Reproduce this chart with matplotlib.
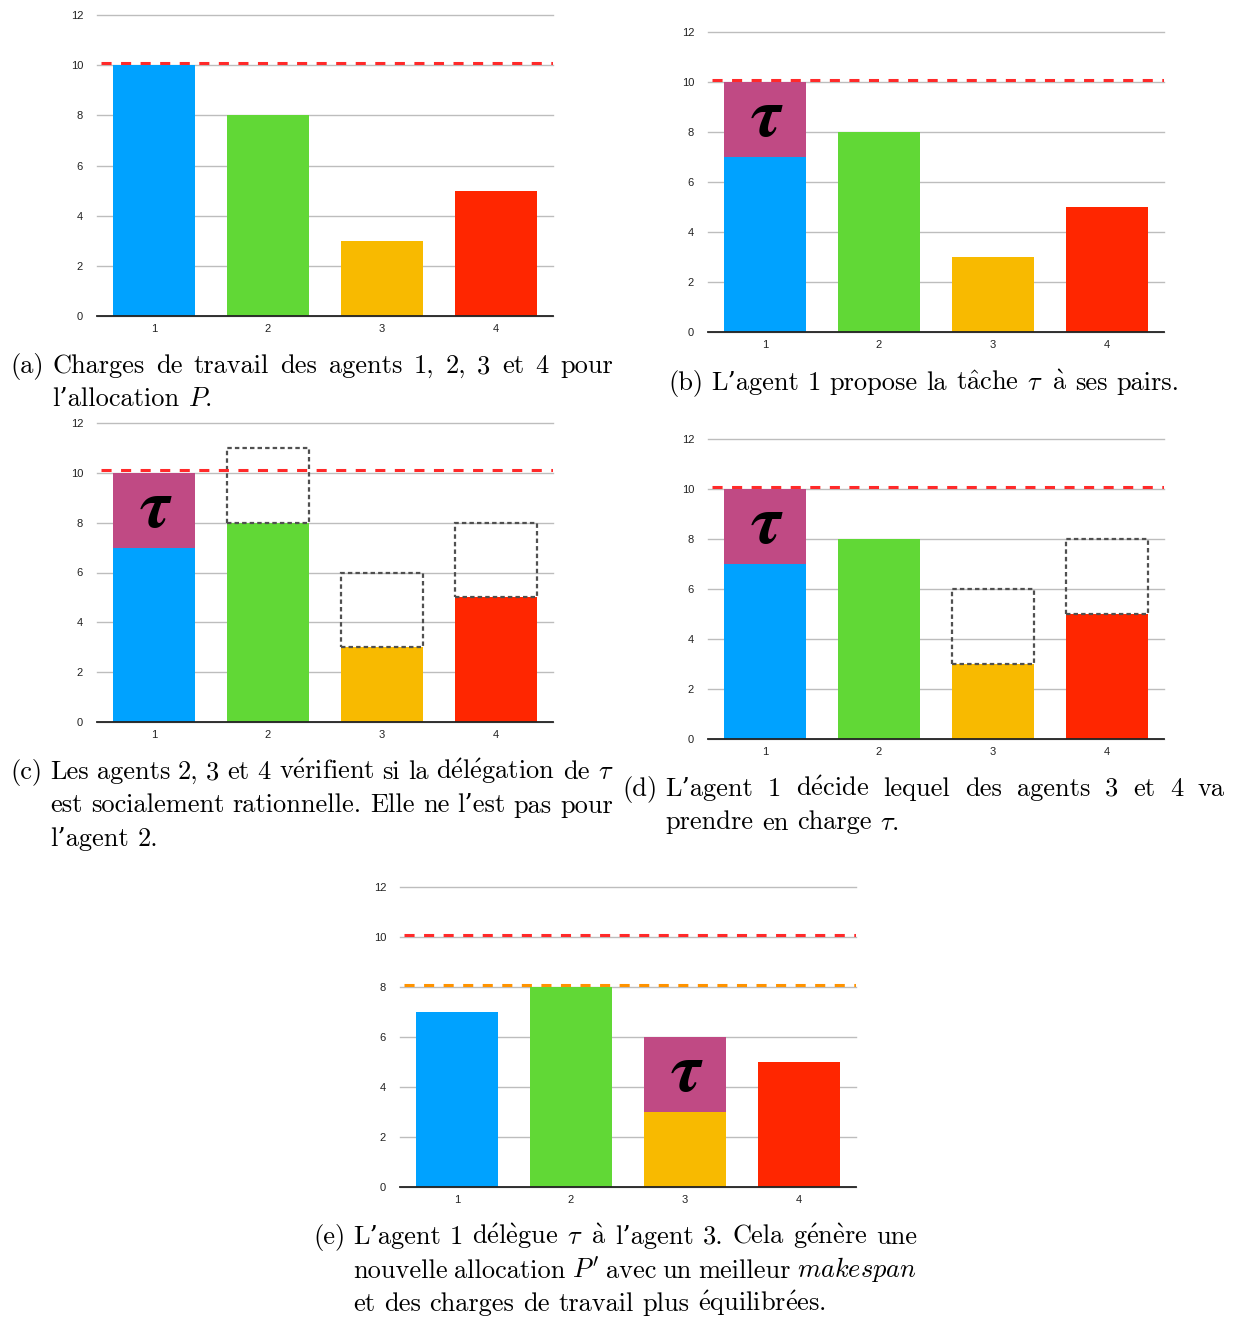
import numpy as np
import matplotlib
matplotlib.use("Agg")
import matplotlib.pyplot as plt
from matplotlib.patches import Rectangle

plt.rcParams['mathtext.fontset'] = 'cm'

# =========================
# DATA
# =========================
agents = [1, 2, 3, 4]
bar_colors = ['#00A2FF', '#61D836', '#F8BA00', '#FF2600']
tau_color = '#C04A84'
loads_P = [10, 8, 3, 5]        # allocation P
loads_rest = [7, 8, 3, 5]      # loads once tau is taken out of agent 1
tau_load = 3
makespan_P = 10
makespan_P2 = 8
yticks = [0, 2, 4, 6, 8, 10, 12]

# per panel: loads, agent holding tau, agents checking tau, dashed levels
panel_a = dict(loads=loads_P, holder=None, cand=[], levels=[makespan_P])
panel_b = dict(loads=loads_rest, holder=1, cand=[], levels=[makespan_P])
panel_c = dict(loads=loads_rest, holder=1, cand=[2, 3, 4], levels=[makespan_P])
panel_d = dict(loads=loads_rest, holder=1, cand=[3, 4], levels=[makespan_P])
panel_e = dict(loads=loads_rest, holder=3, cand=[], levels=[makespan_P, makespan_P2])
level_colors = {makespan_P: '#FF2A2A', makespan_P2: '#FF9300'}

cap_a = ["Charges de travail des agents 1, 2, 3 et 4 pour",
         "l’allocation $P$."]
cap_b = ["L’agent 1 propose la tâche $\\tau$ à ses pairs."]
cap_c = ["Les agents 2, 3 et 4 vérifient si la délégation de $\\tau$",
         "est socialement rationnelle. Elle ne l’est pas pour",
         "l’agent 2."]
cap_d = ["L’agent 1 décide lequel des agents 3 et 4 va",
         "prendre en charge $\\tau$."]
cap_e = ["L’agent 1 délègue $\\tau$ à l’agent 3. Cela génère une",
         "nouvelle allocation $P'$ avec un meilleur $\\mathit{makespan}$",
         "et des charges de travail plus équilibrées."]

# =========================
# LAYOUT (pixels)
# =========================
W, H = 1236, 1317
fig = plt.figure(figsize=(W/100, H/100), dpi=100)

# left, right, y of 0, y of 12
boxes = {
    'a': (97, 553, 316, 15),
    'b': (708, 1164, 332, 32),
    'c': (97, 553, 722, 423),
    'd': (708, 1164, 739, 439),
    'e': (400, 856, 1187, 887),
}
panels = {'a': panel_a, 'b': panel_b, 'c': panel_c, 'd': panel_d, 'e': panel_e}
bw = 0.72


def draw_panel(key):
    l, r, y0, y12 = boxes[key]
    p = panels[key]
    ax = fig.add_axes([l/W, 1 - y0/H, (r - l)/W, (y0 - y12)/H])
    ax.set_xlim(0.5, 4.5)
    ax.set_ylim(0, 12)
    ax.set_yticks(yticks)
    ax.set_xticks(agents)
    ax.yaxis.grid(True, color='#bdbdbd', lw=1.0)
    for gl in ax.get_ygridlines():
        gl.set_clip_on(False)
    ax.set_axisbelow(True)
    for s in ['top', 'right', 'left']:
        ax.spines[s].set_visible(False)
    ax.spines['bottom'].set_color('#222222')
    ax.spines['bottom'].set_linewidth(1.3)
    ax.tick_params(axis='y', length=0, pad=10, labelsize=8, labelcolor='#222222')
    ax.tick_params(axis='x', length=0, pad=6, labelsize=8, labelcolor='#222222')
    for t in ax.get_xticklabels() + ax.get_yticklabels():
        t.set_family('Liberation Sans')

    ax.bar(agents, p['loads'], width=bw, color=bar_colors, zorder=2)
    if p['holder'] is not None:
        h = p['holder']
        base = p['loads'][h - 1]
        ax.bar(h, tau_load, bottom=base, width=bw, color=tau_color, zorder=2)
        ax.text(h, base + tau_load/2, 'τ', ha='center', va='center',
                fontsize=50, family='STIXGeneral', style='italic',
                weight='bold', zorder=4)
    for a in p['cand']:
        ax.add_patch(Rectangle((a - bw/2, p['loads'][a - 1]), bw, tau_load,
                               fill=False, ec='#505050', lw=1.6,
                               ls=(0, (2, 1.4)), zorder=3, clip_on=False))
    for lev in p['levels']:
        ax.axhline(lev + 0.1, xmin=0.008, color=level_colors[lev], lw=2.2,
                   ls=(0, (3.3, 3.1)), zorder=3)
    return ax


for k in boxes:
    draw_panel(k)

# =========================
# CAPTIONS (justified like LaTeX)
# =========================
FS = 19
SERIF = ['cmr10', 'DejaVu Serif']
renderer = fig.canvas.get_renderer()
space = FS * 100 / 72 * 0.333

# cmr10 has no accented letters: build them with mathtext accents
ACCENTS = {'é': r'$\mathrm{\acute{e}}$', 'è': r'$\mathrm{\grave{e}}$',
           'â': r'$\mathrm{\hat{a}}$', 'à': r'$\mathrm{\grave{a}}$'}


def fix(s):
    for k, v in ACCENTS.items():
        s = s.replace(k, v)
    return s


def put(s, x, y):
    return fig.text(x/W, 1 - y/H, fix(s), fontsize=FS, family=SERIF, va='baseline')


def caption(label, lines, lx, tx, right, y, step=33.5, justify=True):
    put(label, lx, y)
    for i, line in enumerate(lines):
        words = line.split(' ')
        texts = [put(w, 0, y + i*step) for w in words]
        widths = [t.get_window_extent(renderer).width for t in texts]
        last = i == len(lines) - 1
        if justify and not last and len(words) > 1:
            gap = (right - tx - sum(widths)) / (len(words) - 1)
        else:
            gap = space
        x = tx
        for t, w in zip(texts, widths):
            t.set_x(x / W)
            x += w + gap


caption('(a)', cap_a, 10, 52, 613, 373)
caption('(b)', cap_b, 668, 711, 1177, 390, justify=False)
caption('(c)', cap_c, 10, 50, 613, 779)
caption('(d)', cap_d, 622, 665, 1225, 796)
caption('(e)', cap_e, 313, 353, 917, 1244)

fig.savefig('out.png', dpi=100)
